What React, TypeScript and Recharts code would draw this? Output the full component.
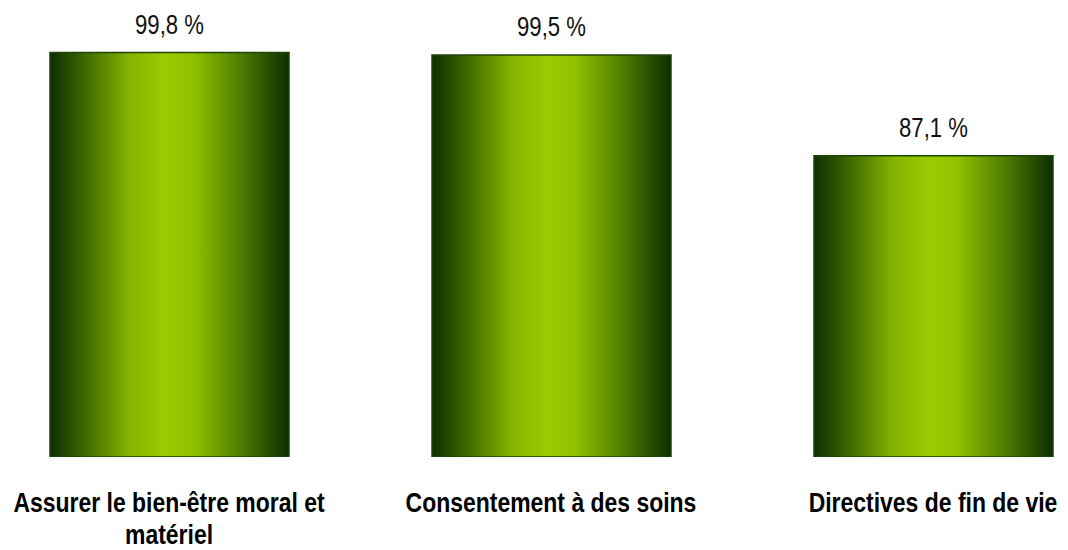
import { BarChart, Bar, XAxis, YAxis, LabelList } from "recharts"

const CATEGORY_LINES = [
  ["Assurer le bien-être moral et", "matériel"],
  ["Consentement à des soins"],
  ["Directives de fin de vie"],
]
const VALUES = [99.8, 99.5, 87.1]

const data = CATEGORY_LINES.map((lines, i) => ({
  name: lines.join(" "),
  value: VALUES[i],
}))

// no narrow font installed: squeeze Liberation Sans horizontally instead
const FONT = "'Liberation Sans', Arial, sans-serif"
const NARROW = 0.82

function CategoryTick({ x, y, payload }: any) {
  const lines = CATEGORY_LINES[payload.index] ?? [payload.value]
  return (
    <text
      transform={`translate(${x},${y}) scale(${NARROW},1)`}
      x={0}
      y={0}
      textAnchor="middle"
      fontFamily={FONT}
      fontWeight="bold"
      fontSize={28}
      fill="#000"
    >
      {lines.map((line, i) => (
        <tspan key={i} x={0} dy={i === 0 ? 47 : 32}>{line}</tspan>
      ))}
    </text>
  )
}

function ValueLabel({ x, y, width, value }: any) {
  return (
    <text
      transform={`translate(${x + width / 2},${y - 19}) scale(${NARROW},1)`}
      textAnchor="middle"
      fontFamily={FONT}
      fontSize={27}
      fill="#111"
    >
      {String(value).replace(".", ",")} %
    </text>
  )
}

export default function App() {
  return (
    <div
      style={{
        position: "absolute", left: 0, top: 0,
        width: 1068, height: 550, overflow: "hidden", background: "#fff",
      }}
    >
      <div style={{ position: "absolute", left: -22.5, top: 0 }}>
        <BarChart
          width={1146}
          height={550}
          data={data}
          margin={{ top: 51, right: 0, bottom: 0, left: 0 }}
        >
          <defs>
            <linearGradient id="barGrad" x1="0" y1="0" x2="1" y2="0">
              <stop offset="0" stopColor="#0d2e00" />
              <stop offset="0.15" stopColor="#3f6a00" />
              <stop offset="0.33" stopColor="#84b400" />
              <stop offset="0.48" stopColor="#99cc00" />
              <stop offset="0.6" stopColor="#90c200" />
              <stop offset="0.8" stopColor="#4d7c00" />
              <stop offset="1" stopColor="#0d2e00" />
            </linearGradient>
          </defs>
          <XAxis
            dataKey="name"
            height={93}
            axisLine={false}
            tickLine={false}
            interval={0}
            tick={<CategoryTick />}
          />
          <YAxis hide domain={[50, 100]} allowDataOverflow />
          <Bar
            dataKey="value"
            barSize={239}
            fill="url(#barGrad)"
            stroke="#1f4608"
            strokeWidth={1.5}
            isAnimationActive={false}
          >
            <LabelList dataKey="value" content={<ValueLabel />} />
          </Bar>
        </BarChart>
      </div>
    </div>
  )
}
